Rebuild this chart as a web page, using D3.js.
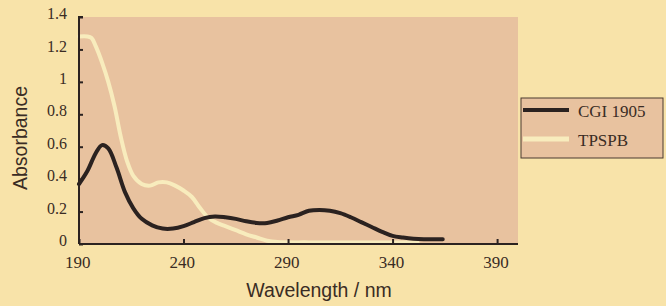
<!DOCTYPE html>
<html><head><meta charset="utf-8">
<script src="https://cdn.jsdelivr.net/npm/d3@7"></script>
<style>html,body{margin:0;padding:0;background:#f8e3a9;}svg{display:block;}</style>
</head><body>
<script>
const xTicks = [190, 240, 290, 340, 390];
const yTicks = [0, 0.2, 0.4, 0.6, 0.8, 1, 1.2, 1.4];
const seriesNames = ["CGI 1905", "TPSPB"];
const cgiWl = [190,194,198,201,204,208,212,216,220,225,230,235,240,245,250,255,260,265,270,275,280,285,290,295,300,305,310,315,320,325,330,335,340,345,350,355,360,364];
const cgiAbs = [0.37,0.45,0.56,0.61,0.59,0.47,0.32,0.22,0.155,0.115,0.095,0.095,0.11,0.135,0.16,0.17,0.165,0.155,0.14,0.13,0.13,0.145,0.165,0.18,0.205,0.21,0.205,0.19,0.165,0.135,0.105,0.075,0.05,0.04,0.033,0.03,0.03,0.03];
const tpWl = [190,194,196,198,201,204,207,210,213,216,220,224,228,232,236,240,244,248,252,256,260,265,270,275,280,285,300,330,352];
const tpAbs = [1.28,1.28,1.27,1.22,1.12,1.0,0.85,0.66,0.51,0.42,0.37,0.36,0.38,0.38,0.36,0.33,0.29,0.22,0.16,0.13,0.11,0.085,0.06,0.04,0.02,0.012,0.01,0.01,0.01];

const W = 666, H = 306;
const svg = d3.select("body").append("svg").attr("width", W).attr("height", H);
svg.append("rect").attr("width", W).attr("height", H).attr("fill", "#f8e3a9");

const x = d3.scaleLinear().domain([190, 400]).range([79, 518]);
const y = d3.scaleLinear().domain([0, 1.4]).range([244, 17]);
const plotBg = "#e8c29f";
const ink = "#2b2220";
const txt = "#3a2c24";

svg.append("rect").attr("x", x(190)).attr("y", y(1.4)).attr("width", x(400) - x(190)).attr("height", y(0) - y(1.4)).attr("fill", plotBg);

const serif = "Liberation Serif, DejaVu Serif, serif";
const sans = "Liberation Sans, Arial, sans-serif";

const line = d3.line().x(d => x(d[0])).y(d => y(d[1])).curve(d3.curveCatmullRom.alpha(0.5));

svg.append("path").datum(tpWl.map((w, i) => [w, tpAbs[i]]))
  .attr("d", line).attr("fill", "none").attr("stroke", "#f8ecbd").attr("stroke-width", 4).attr("stroke-linecap", "round");
svg.append("path").datum(cgiWl.map((w, i) => [w, cgiAbs[i]]))
  .attr("d", line).attr("fill", "none").attr("stroke", ink).attr("stroke-width", 4).attr("stroke-linecap", "round");

const yAxis = svg.append("g").attr("transform", `translate(${x(190)},0)`)
  .call(d3.axisLeft(y).tickValues(yTicks).tickSize(-4).tickPadding(12).tickFormat(d => String(+d.toFixed(1))));
const xAxis = svg.append("g").attr("transform", `translate(0,${y(0)})`)
  .call(d3.axisBottom(x).tickValues(xTicks).tickSize(-5).tickPadding(12).tickFormat(d => String(d)));
[yAxis, xAxis].forEach(g => {
  g.attr("font-family", serif);
  g.select(".domain").attr("stroke", ink).attr("stroke-width", 2);
  g.selectAll(".tick line").attr("stroke", ink).attr("stroke-width", 2);
  g.selectAll("text").attr("fill", txt).attr("font-family", serif).style("font-family", serif);
});
yAxis.attr("font-size", 16).selectAll("text").attr("font-size", 16).attr("dy", "0.1em");
xAxis.attr("font-size", 17).selectAll("text").attr("font-size", 17).attr("dx", "-0.1em");
yAxis.select(".domain").attr("d", `M0,${y(0)}V${y(1.4)}H4`);
xAxis.select(".domain").attr("d", `M${x(190)},0H${x(400)}`);

svg.append("text").attr("x", 319).attr("y", 297).attr("text-anchor", "middle")
  .attr("font-family", sans).attr("font-size", 19.5).attr("fill", txt).text("Wavelength / nm");
svg.append("text").attr("transform", "translate(27,138) rotate(-90)").attr("text-anchor", "middle")
  .attr("font-family", sans).attr("font-size", 19.5).attr("fill", txt).text("Absorbance");

const lg = svg.append("g");
lg.append("rect").attr("x", 521).attr("y", 98).attr("width", 142).attr("height", 60)
  .attr("fill", plotBg).attr("stroke", "#4a3a30").attr("stroke-width", 1);
const colors = [ink, "#f8ecbd"];
seriesNames.forEach((n, i) => {
  const yy = 110 + i * 29;
  lg.append("line").attr("x1", 523).attr("x2", 569).attr("y1", yy).attr("y2", yy)
    .attr("stroke", colors[i]).attr("stroke-width", i === 0 ? 4 : 5);
  lg.append("text").attr("x", 578).attr("y", yy + 7).attr("font-family", serif).attr("font-size", 17)
    .attr("fill", txt).text(n);
});
</script>
</body></html>
